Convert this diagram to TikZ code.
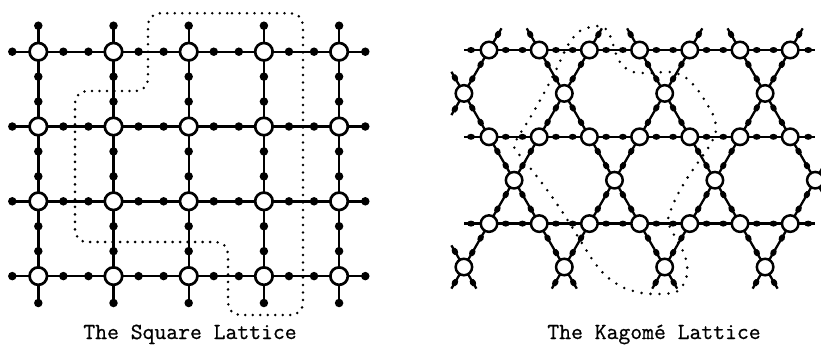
\documentclass[tikz,border=0pt]{standalone}
\usepackage{fontspec}
\setmonofont{Latin Modern Mono}[FakeBold=0.7]
\usetikzlibrary{shapes.geometric}
\newcommand\kedge[2]{\draw[kge] (#1) -- node[kgd,pos=1/3]{} node[kgd,pos=2/3]{} (#2);}
\newcommand\kstub[2]{\draw[kge] (#1) -- ++(#2) node[kgd,pos=0.72]{};}
\begin{document}
\begin{tikzpicture}[x=1pt,y=-1pt,
  sqv/.style={circle,draw,line width=2.7pt,fill=white,minimum size=17.5pt,inner sep=0pt},
  sqd/.style={circle,fill=black,minimum size=8.5pt,inner sep=0pt},
  sqe/.style={line width=2.4pt},
  kgv/.style={circle,draw,line width=2.5pt,fill=white,minimum size=16.5pt,inner sep=0pt},
  kgd/.style={ellipse,fill=black,minimum width=8pt,minimum height=6pt,inner sep=0pt,sloped},
  kge/.style={line width=2.3pt},
  dotline/.style={line width=2.8pt,line cap=round,dash pattern=on 0pt off 7.5pt},
  kdotline/.style={line width=2.8pt,line cap=round,dash pattern=on 0pt off 9pt},
  captext/.style={font=\fontsize{23}{25}\selectfont\ttfamily,anchor=base}
]
\useasboundingbox (0,0) rectangle (821,346);
\clip (0,0) rectangle (821,346);

% ---------------- Square lattice ----------------
\foreach \i in {0,...,4}{
  \foreach \j in {0,...,3}{
    \coordinate (s\i\j) at ({38.3+75.2*\i},{51.7+74.8*\j});
  }
  \coordinate (sT\i) at ({38.3+75.2*\i},25.7);
  \coordinate (sB\i) at ({38.3+75.2*\i},303);
}
\foreach \j in {0,...,3}{
  \coordinate (sL\j) at (12.3,{51.7+74.8*\j});
  \coordinate (sR\j) at (365.3,{51.7+74.8*\j});
}
% horizontal edges
\foreach \i [evaluate=\i as \n using int(\i+1)] in {0,...,3}{
  \foreach \j in {0,...,3}{
    \draw[sqe] (s\i\j) -- node[sqd,pos=1/3]{} node[sqd,pos=2/3]{} (s\n\j);
  }
}
% vertical edges
\foreach \i in {0,...,4}{
  \foreach \j [evaluate=\j as \n using int(\j+1)] in {0,...,2}{
    \draw[sqe] (s\i\j) -- node[sqd,pos=1/3]{} node[sqd,pos=2/3]{} (s\i\n);
  }
  \draw[sqe] (s\i0) -- (sT\i) node[sqd]{};
  \draw[sqe] (s\i3) -- (sB\i) node[sqd]{};
}
\foreach \j in {0,...,3}{
  \draw[sqe] (s0\j) -- (sL\j) node[sqd]{};
  \draw[sqe] (s4\j) -- (sR\j) node[sqd]{};
}
\foreach \i in {0,...,4}{
  \foreach \j in {0,...,3}{
    \node[sqv] (n\i\j) at (s\i\j) {};
  }
}
% dotted region
\draw[dotline, rounded corners=12pt] (220,13.3) -- (303,13.3) -- (303,315) -- (228,315)
  -- (228,242) -- (75,242) -- (75,91) -- (148,91) -- (148,13.3) -- cycle;

% ---------------- Kagome lattice ----------------
\foreach \j in {0,1,2}{
  \foreach \k in {0,...,6}{
    \coordinate (kL\j-\k) at ({489+50.2*\k},{50+86.8*\j});
  }
}
\foreach \m in {0,...,3}{
  \coordinate (kA\m) at ({463.9+100.4*\m},93.4);
  \coordinate (kB\m) at ({514.1+100.4*\m},180.2);
  \coordinate (kC\m) at ({463.9+100.4*\m},267);
}
% horizontal edges
\foreach \j in {0,1,2}{
  \foreach \k [evaluate=\k as \n using int(\k+1)] in {0,...,5}{
    \kedge{kL\j-\k}{kL\j-\n}
  }
  \kstub{kL\j-0}{-25,0}
  \kstub{kL\j-6}{25,0}
}
% top stubs
\foreach \k in {0,2,4,6}{\kstub{kL0-\k}{12.5,-21.65}}
\foreach \k in {1,3,5}{\kstub{kL0-\k}{-12.5,-21.65}}
% row A
\foreach \m in {0,...,3}{
  \pgfmathtruncatemacro\kka{2*\m-1}
  \pgfmathtruncatemacro\kkb{2*\m}
  \ifnum\m=0
    \kstub{kA0}{-12.5,-21.65}
    \kstub{kA0}{-12.5,21.65}
  \else
    \kedge{kL0-\kka}{kA\m}
    \kedge{kA\m}{kL1-\kka}
  \fi
  \kedge{kA\m}{kL0-\kkb}
  \kedge{kA\m}{kL1-\kkb}
}
% row B
\foreach \m in {0,...,3}{
  \pgfmathtruncatemacro\kka{2*\m}
  \pgfmathtruncatemacro\kkb{2*\m+1}
  \kedge{kL1-\kka}{kB\m}
  \kedge{kB\m}{kL2-\kka}
  \ifnum\m=3
    \kstub{kB3}{12.5,-21.65}
    \kstub{kB3}{12.5,21.65}
  \else
    \kedge{kB\m}{kL1-\kkb}
    \kedge{kB\m}{kL2-\kkb}
  \fi
}
% row C
\foreach \m in {0,...,3}{
  \pgfmathtruncatemacro\kka{2*\m-1}
  \pgfmathtruncatemacro\kkb{2*\m}
  \ifnum\m=0
    \kstub{kC0}{-12.5,-21.65}
  \else
    \kedge{kL2-\kka}{kC\m}
  \fi
  \kedge{kC\m}{kL2-\kkb}
  \kstub{kC\m}{-12.5,21.65}
  \kstub{kC\m}{12.5,21.65}
}
% vertices
\foreach \j in {0,1,2}{
  \foreach \k in {0,...,6}{
    \node[kgv] (vL\j-\k) at (kL\j-\k) {};
  }
}
\foreach \m in {0,...,3}{
  \node[kgv] (vA\m) at (kA\m) {};
  \node[kgv] (vB\m) at (kB\m) {};
  \node[kgv] (vC\m) at (kC\m) {};
}
% dotted loop
\draw[kdotline] plot[smooth cycle, tension=0.5] coordinates {
  (597,26) (580,31) (568,45) (556,70) (543,95) (530,118) (518,137) (514,147)
  (522,158) (535,174) (550,194) (565,216) (580,240) (592,259) (605,275)
  (622,287) (642,293) (662,294) (678,291) (686,279) (687,264) (682,249)
  (673,233) (668,220) (675,200) (686,180) (699,161) (710,145) (716,131)
  (714,117) (707,104) (697,89) (685,77) (670,72) (650,73) (633,72)
  (622,65) (616,54) (612,41) (607,30)};

% captions
\node[captext] (capS) at (190,339) {The Square Lattice};
\node[captext] (capK) at (654,339) {The Kagomé Lattice};
\end{tikzpicture}
\end{document}
